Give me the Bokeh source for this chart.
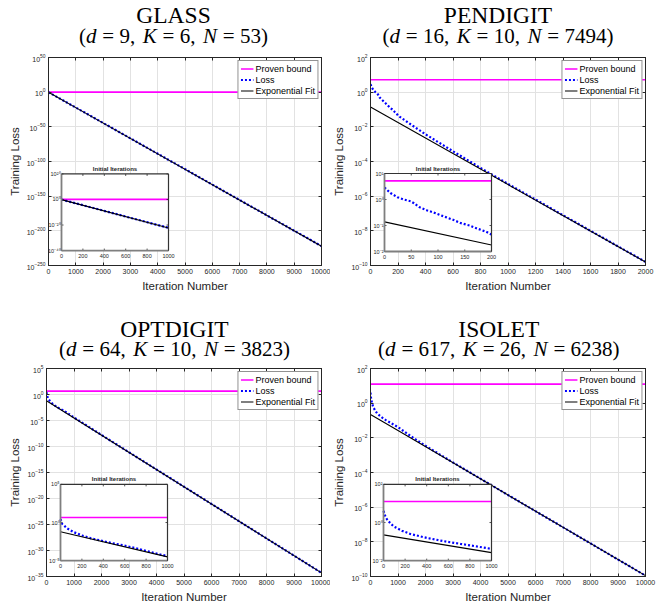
from bokeh.plotting import figure
from bokeh.layouts import column, row
from bokeh.models import (Range1d, LinearAxis, LogAxis, FixedTicker, Grid, LogScale,
                          Legend, LegendItem, CustomJSTickFormatter)
from bokeh.core.properties import value
from bokeh.embed import file_html
from bokeh.resources import INLINE

# ---------------- data ----------------
# GLASS (d=9, K=6, N=53)
glass_iter = [0, 250, 500, 1000, 2000, 4000, 6000, 8000, 10000]
glass_loss = [0.89, 2.5e-6, 7.1e-12, 6.3e-23, 4.0e-45, 1.6e-89, 5.0e-134, 2.0e-178, 1.0e-222]
glass_fit_iter = [0, 1000, 10000]
glass_fit = [0.79, 4.9e-23, 6.3e-223]
glass_bound = 1.2

# PENDIGIT (d=16, K=10, N=7494)
pen_iter = [0, 11, 24, 36, 49, 55, 65, 80, 96, 112, 128, 143, 159, 175, 190, 200,
            300, 400, 600, 800, 1000, 1400, 2000]
pen_loss = [2.88, 1.78, 1.23, 1.0, 0.85, 0.72, 0.51, 0.38, 0.295, 0.219, 0.166, 0.123,
            0.100, 0.0741, 0.0575, 0.0447, 0.0126, 0.00372, 3.89e-4, 4.27e-5, 5.13e-6,
            7.94e-8, 1.62e-10]
pen_fit_iter = [0, 200, 2000]
pen_fit = [0.138, 0.0178, 1.58e-10]
pen_bound = 5.2

# OPTDIGIT (d=64, K=10, N=3823)
opt_iter = [0, 16, 62, 125, 203, 281, 437, 594, 750, 906, 1000, 1500, 2000, 3000, 4000,
            6000, 10000]
opt_loss = [2.82, 0.646, 0.174, 0.0537, 0.0195, 0.00891, 0.00269, 9.77e-4, 2.95e-4,
            8.13e-5, 3.80e-5, 7.94e-7, 1.66e-8, 7.76e-12, 3.72e-15, 8.91e-22, 5.0e-35]
opt_fit_iter = [0, 1000, 10000]
opt_fit = [0.063, 3.1e-5, 5.0e-35]
opt_bound = 4.5

# ISOLET (d=617, K=26, N=6238)
iso_iter = [0, 15, 31, 62, 93, 170, 248, 402, 557, 712, 867, 1000, 1300, 1600, 2000,
            3000, 5000, 10000]
iso_loss = [4.07, 2.24, 1.51, 0.933, 0.631, 0.372, 0.251, 0.155, 0.105, 0.0759, 0.0550,
            0.0417, 0.0191, 0.00891, 0.00347, 3.80e-4, 5.01e-6, 1.12e-10]
iso_fit_iter = [0, 1000, 10000]
iso_fit = [0.224, 0.0263, 1.12e-10]
iso_bound = 12.6

# axis ticks (y ticks given as powers of ten)
x_ticks_10k = [0, 1000, 2000, 3000, 4000, 5000, 6000, 7000, 8000, 9000, 10000]
x_ticks_2k = [0, 200, 400, 600, 800, 1000, 1200, 1400, 1600, 1800, 2000]
glass_y_exp = [-250, -200, -150, -100, -50, 0, 50]
pen_y_exp = [-10, -8, -6, -4, -2, 0, 2]
opt_y_exp = [-35, -30, -25, -20, -15, -10, -5, 0, 5]
iso_y_exp = [-10, -8, -6, -4, -2, 0, 2]

# inset ("Initial Iterations") ticks
inset_x_1k = [0, 200, 400, 600, 800, 1000]
inset_x_200 = [0, 50, 100, 150, 200]
glass_inset_exp = [-40, -20, 0, 20]
pen_inset_exp = [-2, -1, 0, 1]
opt_inset_exp = [-5, 0, 5]
iso_inset_exp = [-2, 0, 2]

# ---------------- styling ----------------
FONT = "Liberation Sans"
SERIF = "Liberation Serif"
AX = "#262626"
GRID = "#e2e2e2"
MAGENTA = "#ff00ff"
BLUE = "#0000ff"

SUP = str.maketrans("0123456789-", "⁰¹²³⁴⁵⁶⁷⁸⁹⁻")


def pow_label(e):
    return "10" + str(e).translate(SUP)


# Times-compatible advance widths (em) for laying out the subtitle pieces
EM = {"(": .333, ")": .333, "=": .564, ",": .25, " ": .25, "d": .5, "K": .667, "N": .667}
for ch in "0123456789":
    EM[ch] = .5
# distance from the alphabetic baseline up to the middle of the em box (Times metrics)
MID_ABOVE_BASE = 0.34


def em_width(s):
    return sum(EM[c] for c in s)


panels = [
    dict(name="GLASS", d=9, K=6, N=53, it=glass_iter, loss=glass_loss,
         fit_it=glass_fit_iter, fit=glass_fit, bound=glass_bound,
         xmax=10000, xticks=x_ticks_10k, yexp=glass_y_exp,
         ix=1000, ixticks=inset_x_1k, iyexp=glass_inset_exp,
         size=(330, 251), border=(48, 9, 5, 37), inset=(13, 15, 107, 77),
         title_h=52, tcx=173, ty=22.7, sy=42.5),
    dict(name="PENDIGIT", d=16, K=10, N=7494, it=pen_iter, loss=pen_loss,
         fit_it=pen_fit_iter, fit=pen_fit, bound=pen_bound,
         xmax=2000, xticks=x_ticks_2k, yexp=pen_y_exp,
         ix=200, ixticks=inset_x_200, iyexp=pen_inset_exp,
         size=(329, 251), border=(40, 14, 5, 38), inset=(14, 14, 107, 78),
         title_h=52, tcx=167.5, ty=22.7, sy=42.5),
    dict(name="OPTDIGIT", d=64, K=10, N=3823, it=opt_iter, loss=opt_loss,
         fit_it=opt_fit_iter, fit=opt_fit, bound=opt_bound,
         xmax=10000, xticks=x_ticks_10k, yexp=opt_y_exp,
         ix=1000, ixticks=inset_x_1k, iyexp=opt_inset_exp,
         size=(330, 242), border=(46, 9, 5, 27), inset=(14, 16, 107, 77),
         title_h=60, tcx=174, ty=33.7, sy=53),
    dict(name="ISOLET", d=617, K=26, N=6238, it=iso_iter, loss=iso_loss,
         fit_it=iso_fit_iter, fit=iso_fit, bound=iso_bound,
         xmax=10000, xticks=x_ticks_10k, yexp=iso_y_exp,
         ix=1000, ixticks=inset_x_1k, iyexp=iso_inset_exp,
         size=(329, 242), border=(40, 14, 5, 27), inset=(13, 16, 108, 77),
         title_h=60, tcx=168.3, ty=33.7, sy=53),
]


def style_axis(ax, labels=True):
    ax.axis_line_color = AX
    ax.axis_line_width = 1
    ax.major_tick_in = 3
    ax.major_tick_out = 0
    ax.minor_tick_in = 0
    ax.minor_tick_out = 0
    ax.major_tick_line_color = AX
    ax.major_label_text_font = FONT
    ax.major_label_text_font_size = "7px"
    ax.major_label_text_color = AX
    ax.major_label_standoff = 3
    ax.axis_label_text_font = FONT
    ax.axis_label_text_font_size = "11.5px"
    ax.axis_label_text_font_style = "normal"
    ax.axis_label_text_color = AX
    ax.axis_label_standoff = 3
    if not labels:
        ax.formatter = CustomJSTickFormatter(code="return ''")
        ax.major_label_standoff = 0


def make_title(c):
    """Dataset name and the (d, K, N) line, with italic math letters."""
    width = c["size"][0]
    h = c["title_h"]
    t = figure(width=width, height=h, min_border=0, x_range=Range1d(0, width),
               y_range=Range1d(0, h), x_axis_location=None, y_axis_location=None,
               output_backend="svg", toolbar_location=None, tools="")
    t.xgrid.visible = False
    t.ygrid.visible = False
    t.outline_line_color = None
    tfs = 23.5
    t.text(x=[c["tcx"]], y=[h - c["ty"] + MID_ABOVE_BASE * tfs], text=[c["name"]],
           text_align="center", text_baseline="middle", text_font=value(SERIF),
           text_font_size=f"{tfs}px", text_color="black")
    pieces = [("(", False, 0.0), ("d", True, .278), (f"= {c['d']},", False, .36),
              ("K", True, .278), (f"= {c['K']},", False, .36),
              ("N", True, .278), (f"= {c['N']})", False, 0.0)]
    fs = 21.0
    total = sum(em_width(s) + g for s, _, g in pieces) * fs
    xpos = c["tcx"] - total / 2
    up_x, up_t, it_x, it_t = [], [], [], []
    for s, italic, gap in pieces:
        if italic:
            it_x.append(xpos)
            it_t.append(s)
        else:
            up_x.append(xpos)
            up_t.append(s)
        xpos += (em_width(s) + gap) * fs
    sy = h - c["sy"] + MID_ABOVE_BASE * fs
    common = dict(text_align="left", text_baseline="middle", text_font=value(SERIF),
                  text_font_size=f"{fs}px", text_color="black")
    t.text(x=up_x, y=[sy] * len(up_x), text=up_t, text_font_style="normal", **common)
    t.text(x=it_x, y=[sy] * len(it_x), text=it_t, text_font_style="italic", **common)
    return t


def make_panel(c):
    width, height = c["size"]
    bl, br, bt, bb = c["border"]
    fw, fh = width - bl - br, height - bt - bb
    p = figure(width=width, height=height, min_border_left=bl, min_border_right=br,
               min_border_top=bt, min_border_bottom=bb,
               x_range=Range1d(0, fw), y_range=Range1d(0, fh),
               x_axis_location=None, y_axis_location=None,
               output_backend="svg", toolbar_location=None, tools="")
    p.xgrid.visible = False
    p.ygrid.visible = False
    p.outline_line_color = AX
    p.background_fill_color = "white"
    p.border_fill_color = "white"

    ymin = 10.0 ** c["yexp"][0]
    ymax = 10.0 ** c["yexp"][-1]

    # inset ranges: the inset box (in frame pixels) shows [0, ix] x [iymin, iymax]
    L, B, W, H = c["inset"]
    ix = c["ix"]
    e0, e1 = c["iyexp"][0], c["iyexp"][-1]
    span = e1 - e0
    iymin, iymax = 10.0 ** e0, 10.0 ** e1

    p.extra_x_ranges = {"iter": Range1d(0, c["xmax"]),
                        "inset_x": Range1d(-L / W * ix, (fw - L) / W * ix)}
    p.extra_y_ranges = {"loss": Range1d(ymin, ymax),
                        "inset_y": Range1d(10.0 ** (e0 - B / H * span),
                                           10.0 ** (e0 + (fh - B) / H * span))}
    p.extra_y_scales = {"loss": LogScale(), "inset_y": LogScale()}

    xt = FixedTicker(ticks=c["xticks"], minor_ticks=[])
    yt = FixedTicker(ticks=[10.0 ** e for e in c["yexp"]], minor_ticks=[])

    xb = LinearAxis(x_range_name="iter", ticker=xt, axis_label="Iteration Number")
    xa = LinearAxis(x_range_name="iter", ticker=xt)
    yl = LogAxis(y_range_name="loss", ticker=yt, axis_label="Training Loss")
    yr = LogAxis(y_range_name="loss", ticker=yt)
    style_axis(xb)
    style_axis(yl)
    style_axis(xa, labels=False)
    style_axis(yr, labels=False)
    p.add_layout(xb, "below")
    p.add_layout(yl, "left")
    p.add_layout(xa, "above")
    p.add_layout(yr, "right")

    p.add_layout(Grid(dimension=0, ticker=xt, x_range_name="iter",
                      grid_line_color=GRID, grid_line_width=1))
    p.add_layout(Grid(dimension=1, ticker=yt, y_range_name="loss",
                      grid_line_color=GRID, grid_line_width=1))

    kw = dict(x_range_name="iter", y_range_name="loss")
    r_bound = p.line([0, c["xmax"]], [c["bound"], c["bound"]], line_color=MAGENTA,
                     line_width=1.6, **kw)
    r_loss = p.line(c["it"], c["loss"], line_color=BLUE, line_width=2.2,
                    line_dash="2 2", **kw)
    r_fit = p.line(c["fit_it"], c["fit"], line_color="black", line_width=1.1, **kw)

    legend = Legend(items=[LegendItem(label="Proven bound", renderers=[r_bound]),
                           LegendItem(label="Loss", renderers=[r_loss]),
                           LegendItem(label="Exponential Fit", renderers=[r_fit])],
                    location="top_right", margin=3, padding=2, spacing=0,
                    glyph_width=13, glyph_height=11, label_height=11,
                    label_standoff=2, label_text_font=FONT,
                    label_text_font_size="9px", label_text_color="black",
                    border_line_color=AX, border_line_width=1,
                    background_fill_color="white", background_fill_alpha=1)
    p.add_layout(legend)

    # ---- inset with the initial iterations ----
    p.quad(left=L, right=L + W, bottom=B, top=B + H, fill_color="white", line_color=None)
    ikw = dict(x_range_name="inset_x", y_range_name="inset_y")

    li = [x for x in c["it"] if x <= ix]
    ll = [y for x, y in zip(c["it"], c["loss"]) if x <= ix]
    fi = [x for x in c["fit_it"] if x <= ix]
    ff = [y for x, y in zip(c["fit_it"], c["fit"]) if x <= ix]
    p.line([0, ix], [c["bound"], c["bound"]], line_color=MAGENTA, line_width=1.6, **ikw)
    p.line(li, ll, line_color=BLUE, line_width=2.2, line_dash="2 2", **ikw)
    p.line(fi, ff, line_color="black", line_width=1.1, **ikw)

    # inset tick marks (inward, all four sides)
    tick_fac = 10.0 ** (2.0 / H * span)
    tick_dx = 2.0 / W * ix
    xts = c["ixticks"]
    yts = [10.0 ** e for e in c["iyexp"]]
    nx, ny = len(xts), len(yts)
    p.segment(x0=xts, x1=xts, y0=[iymin] * nx, y1=[iymin * tick_fac] * nx,
              line_color=AX, line_width=0.8, **ikw)
    p.segment(x0=xts, x1=xts, y0=[iymax] * nx, y1=[iymax / tick_fac] * nx,
              line_color=AX, line_width=0.8, **ikw)
    p.segment(x0=[0] * ny, x1=[tick_dx] * ny, y0=yts, y1=yts,
              line_color=AX, line_width=0.8, **ikw)
    p.segment(x0=[ix] * ny, x1=[ix - tick_dx] * ny, y0=yts, y1=yts,
              line_color=AX, line_width=0.8, **ikw)

    # inset frame
    p.segment(x0=[L, L], x1=[L + W, L], y0=[B, B], y1=[B, B + H],
              line_color="#7f7f7f", line_width=1.8)
    p.segment(x0=[L, L + W], x1=[L + W, L + W], y0=[B + H, B], y1=[B + H, B + H],
              line_color="#333333", line_width=1.2)

    p.text(x=xts, y=[iymin] * nx, text=[str(v) for v in xts],
           y_offset=3, text_align="center", text_baseline="top",
           text_font=value(FONT), text_font_size="5.5px", text_color=AX, **ikw)
    p.text(x=[0] * ny, y=yts, text=[pow_label(e) for e in c["iyexp"]],
           x_offset=-1, text_align="right", text_baseline="middle",
           text_font=value(FONT), text_font_size="5.5px", text_color=AX, **ikw)
    p.text(x=[ix / 2], y=[iymax], text=["Initial Iterations"], y_offset=-2,
           text_align="center", text_baseline="bottom", text_font=value(FONT),
           text_font_size="6px", text_font_style="bold", text_color=AX, **ikw)
    return p


titles = [make_title(c) for c in panels]
figs = [make_panel(c) for c in panels]
page = column(row(titles[0], titles[1]), row(figs[0], figs[1]),
              row(titles[2], titles[3]), row(figs[2], figs[3]))

open("out.html", "w").write(file_html(page, INLINE))
